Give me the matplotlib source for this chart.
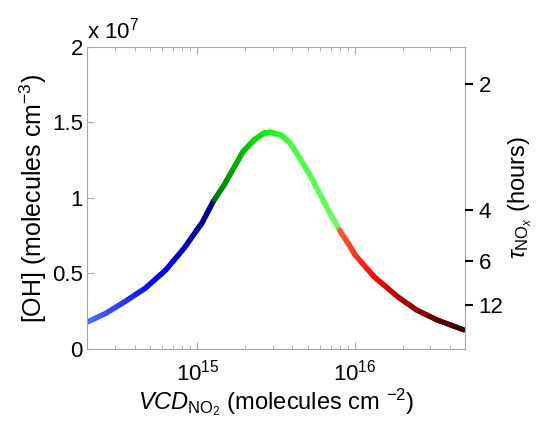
import numpy as np
import matplotlib
matplotlib.use('Agg')
import matplotlib.pyplot as plt
from matplotlib.collections import LineCollection
from matplotlib.colors import LinearSegmentedColormap

plt.rcParams['font.family'] = 'Liberation Sans'
plt.rcParams['mathtext.fontset'] = 'custom'
plt.rcParams['mathtext.rm'] = 'Liberation Sans'
plt.rcParams['mathtext.it'] = 'Liberation Sans:italic'

# Data: log10(VCD_NO2) and [OH] in 1e7 molecules cm-3
log_vcd = [14.29, 14.42, 14.54, 14.67, 14.80, 14.92, 14.99, 15.03, 15.10, 15.17,
           15.23, 15.29, 15.36, 15.42, 15.46, 15.53, 15.59, 15.65, 15.72, 15.78,
           15.84, 15.91, 15.97, 16.00, 16.12, 16.27, 16.39, 16.52, 16.69]
oh = [0.172, 0.236, 0.313, 0.402, 0.523, 0.672, 0.777, 0.835, 0.975, 1.086,
      1.197, 1.307, 1.384, 1.428, 1.435, 1.417, 1.362, 1.263, 1.141, 1.020,
      0.900, 0.772, 0.677, 0.623, 0.479, 0.346, 0.258, 0.192, 0.126]

# colour stops along log10(VCD)
stop_pos = [14.29, 14.75, 15.10, 15.1001, 15.46, 15.60, 15.907, 15.9071, 16.15, 16.35, 16.69]
stop_col = [(0.35, 0.45, 1.0), (0.0, 0.0, 1.0), (0.0, 0.0, 0.55), (0.0, 0.45, 0.0),
            (0.0, 1.0, 0.0), (0.25, 1.0, 0.25), (0.4, 1.0, 0.4), (1.0, 0.35, 0.2),
            (1.0, 0.0, 0.0), (0.6, 0.0, 0.0), (0.2, 0.0, 0.0)]

# right axis: lifetime tau_NOx (hours) and where its ticks sit on the OH scale
tau_labels = ['2', '4', '6', '12']
tau_tick_oh = [1.755, 0.92, 0.583, 0.291]

fig = plt.figure(figsize=(5.41, 4.34), dpi=100)
ax = fig.add_axes([0.161, 0.196, 0.699, 0.696])

x = 10 ** np.array(log_vcd)
y = np.array(oh)
lo, hi = stop_pos[0], stop_pos[-1]
cmap = LinearSegmentedColormap.from_list(
    'vcd', [((p - lo) / (hi - lo), c) for p, c in zip(stop_pos, stop_col)])

# fine colour steps along each measured segment
segs, cols = [], []
for i in range(len(x) - 1):
    for f in np.linspace(0, 1, 9)[:-1]:
        lx0 = log_vcd[i] + f * (log_vcd[i + 1] - log_vcd[i])
        lx1 = log_vcd[i] + (f + 0.125) * (log_vcd[i + 1] - log_vcd[i])
        y0 = y[i] + f * (y[i + 1] - y[i])
        y1 = y[i] + (f + 0.125) * (y[i + 1] - y[i])
        segs.append([(10 ** lx0, y0), (10 ** lx1, y1)])
        cols.append(cmap(((lx0 + lx1) / 2 - lo) / (hi - lo)))
lc = LineCollection(segs, colors=cols, linewidths=3.8, capstyle='round',
                    joinstyle='round')
ax.add_collection(lc)

ax.set_xscale('log')
ax.set_xlim(2e14, 5e16)
ax.set_ylim(0, 2)
ax.set_yticks([0, 0.5, 1, 1.5, 2])
ax.set_yticklabels(['0', '0.5', '1', '1.5', '2'])
ax.set_xticks([1e15, 1e16])
ax.set_xticklabels(['$10^{15}$', '$10^{16}$'])

grey = '#a6a6a6'
for s in ax.spines.values():
    s.set_color(grey)
ax.tick_params(which='both', direction='in', top=True, right=True, color=grey,
               labelsize=16, labelcolor='black')
ax.tick_params(which='major', length=5)
ax.tick_params(which='minor', length=3)
ax.tick_params(axis='x', pad=8)
ax.tick_params(axis='y', pad=3)

ax.text(0.0, 1.01, r'x 10$^{7}$', transform=ax.transAxes, fontsize=16,
        ha='left', va='bottom')
ax.set_ylabel('[OH] (molecules cm$^{-3}$)', fontsize=18, labelpad=2)
ax.set_xlabel(r'$VCD_{\mathrm{NO_2}}$ (molecules cm $^{-2}$)', fontsize=17, labelpad=0)

ax2 = ax.twinx()
ax2.set_ylim(0, 2)
ax2.set_yticks(tau_tick_oh)
ax2.set_yticklabels(tau_labels)
ax2.tick_params(axis='y', direction='out', length=6, width=1.5, color='black',
                labelsize=16)
ax2.yaxis.set_minor_locator(matplotlib.ticker.NullLocator())
for s in ax2.spines.values():
    s.set_visible(False)
ax2.set_ylabel(r'$\tau_{\mathrm{NO}_x}$ (hours)', fontsize=17, labelpad=2)

plt.savefig('out.png', dpi=100)
